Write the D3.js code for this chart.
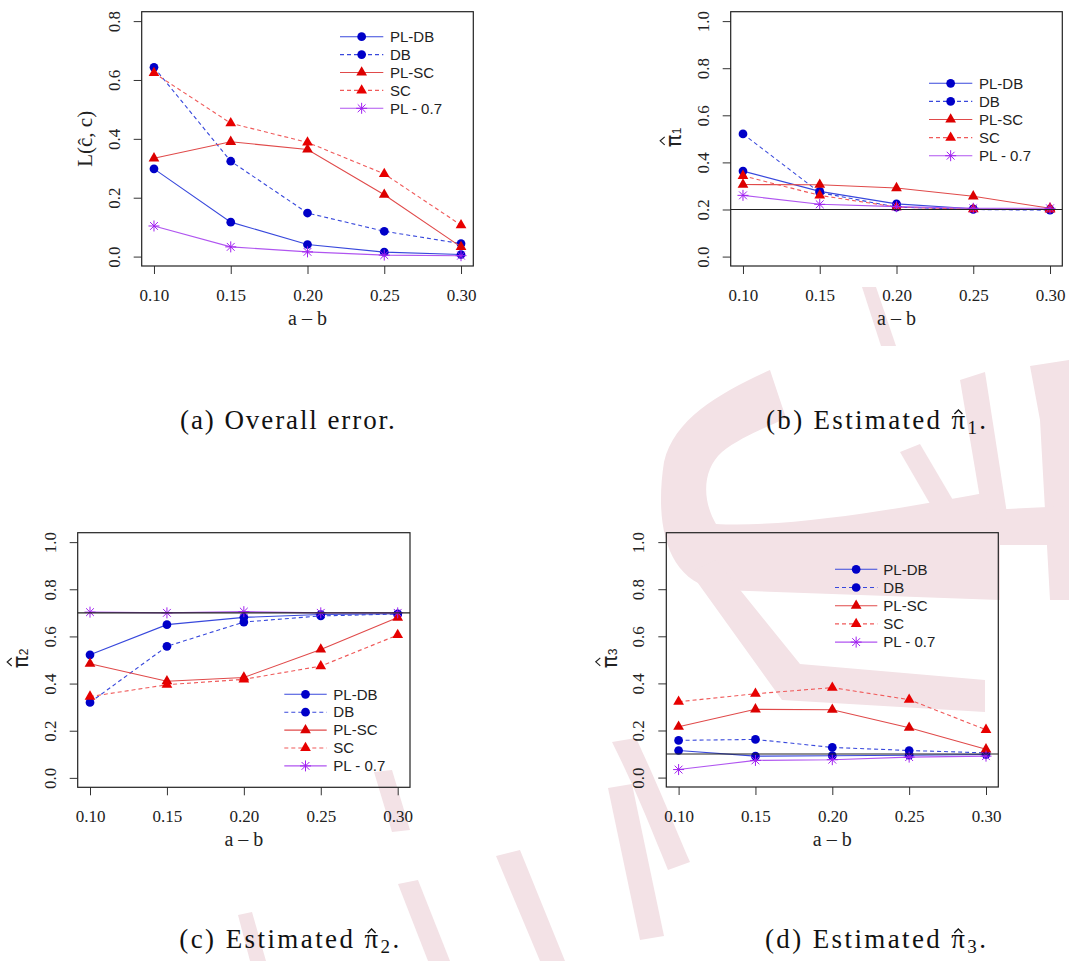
<!DOCTYPE html>
<html>
<head>
<meta charset="utf-8">
<script src="https://cdn.jsdelivr.net/npm/d3@7"></script>
<style>
  body { margin: 0; background: #fff; }
  svg { display: block; }
  .serif { font-family: "Liberation Serif", "Times New Roman", serif; }
  .sans { font-family: "Liberation Sans", Arial, sans-serif; }
</style>
</head>
<body>
<div id="viz"></div>
<script>
/*  simulation summary : 4 panels, 5 methods each  */

// x axis (a - b)
var xVals = [0.10, 0.15, 0.20, 0.25, 0.30];
var xTickLabels = ["0.10", "0.15", "0.20", "0.25", "0.30"];
var methods = ["PL-DB", "DB", "PL-SC", "SC", "PL - 0.7"];

// (a) overall error L(c^, c)
var errPLDB = [0.298, 0.117, 0.041, 0.015, 0.007];
var errDB   = [0.643, 0.324, 0.148, 0.086, 0.044];
var errPLSC = [0.334, 0.390, 0.364, 0.210, 0.033];
var errSC   = [0.624, 0.453, 0.388, 0.281, 0.107];
var errPL07 = [0.104, 0.033, 0.016, 0.005, 0.003];

// (b) estimated pi1 (true 0.2)
var pi1PLDB = [0.363, 0.277, 0.224, 0.203, 0.200];
var pi1DB   = [0.521, 0.272, 0.210, 0.200, 0.197];
var pi1PLSC = [0.306, 0.305, 0.291, 0.256, 0.205];
var pi1SC   = [0.343, 0.260, 0.210, 0.201, 0.200];
var pi1PL07 = [0.260, 0.222, 0.212, 0.205, 0.205];

// (c) estimated pi2 (true 0.7)
var pi2PLDB = [0.522, 0.650, 0.681, 0.693, 0.696];
var pi2DB   = [0.320, 0.558, 0.661, 0.687, 0.695];
var pi2PLSC = [0.484, 0.410, 0.426, 0.545, 0.680];
var pi2SC   = [0.345, 0.395, 0.418, 0.474, 0.606];
var pi2PL07 = [0.703, 0.700, 0.705, 0.700, 0.700];

// (d) estimated pi3 (true 0.1)
var pi3PLDB = [0.115, 0.091, 0.093, 0.095, 0.098];
var pi3DB   = [0.158, 0.162, 0.128, 0.115, 0.105];
var pi3PLSC = [0.216, 0.290, 0.288, 0.212, 0.120];
var pi3SC   = [0.322, 0.356, 0.382, 0.331, 0.203];
var pi3PL07 = [0.034, 0.073, 0.076, 0.087, 0.091];

var yTicksErr = [0, 0.2, 0.4, 0.6, 0.8];
var yTicksPi  = [0, 0.2, 0.4, 0.6, 0.8, 1.0];
var truePi = [null, 0.2, 0.7, 0.1];

// line / marker style per method
var styles = [
    {line: "#3848dc", dash: null,  sym: "circle",   fill: "#0000c8"},
    {line: "#3848dc", dash: "4,3", sym: "circle",   fill: "#0000c8"},
    {line: "#e04a4a", dash: null,  sym: "triangle", fill: "#dc0000"},
    {line: "#f05a5a", dash: "4,3", sym: "triangle", fill: "#e80000"},
    {line: "#b055f0", dash: null,  sym: "star",     fill: "#a020f0"}
];

var panels = [
    {box: {l: 141.7, t: 11.7, r: 473.3, b: 266}, yMax: 0.8, yTicks: yTicksErr,
     series: [errPLDB, errDB, errPLSC, errSC, errPL07], ref: truePi[0],
     legend: {x1: 340, x2: 383.3, tx: 390, y: 36.7, dy: 17.9},
     ylab: "err", caption: {pre: "(a) Overall error.", sub: null, x: 180, y: 429, w: 216.7}},
    {box: {l: 730.7, t: 11.7, r: 1062.3, b: 266}, yMax: 1.0, yTicks: yTicksPi,
     series: [pi1PLDB, pi1DB, pi1PLSC, pi1SC, pi1PL07], ref: truePi[1],
     legend: {x1: 929, x2: 972.3, tx: 979, y: 83.3, dy: 18.1},
     ylab: "1", caption: {pre: "(b) Estimated π", sub: "1", x: 766, y: 429, w: 222.3}},
    {box: {l: 77.7, t: 532.7, r: 410, b: 787.3}, yMax: 1.0, yTicks: yTicksPi,
     series: [pi2PLDB, pi2DB, pi2PLSC, pi2SC, pi2PL07], ref: truePi[2],
     legend: {x1: 284.3, x2: 326.7, tx: 333.3, y: 694.3, dy: 17.9},
     ylab: "2", caption: {pre: "(c) Estimated π", sub: "2", x: 179.3, y: 948, w: 222.4}},
    {box: {l: 666.3, t: 532.7, r: 998.3, b: 787}, yMax: 1.0, yTicks: yTicksPi,
     series: [pi3PLDB, pi3DB, pi3PLSC, pi3SC, pi3PL07], ref: truePi[3],
     legend: {x1: 835, x2: 877.3, tx: 883.3, y: 569.3, dy: 18.2},
     ylab: "3", caption: {pre: "(d) Estimated π", sub: "3", x: 765, y: 948, w: 223.3}}
];

const svg = d3.select("#viz").append("svg")
    .attr("width", 1069)
    .attr("height", 961)
    .style("background", "#fff");

/*  faint watermark in the background (rough)  */
var wm = svg.append("g").attr("fill", "#f3e2e6").attr("stroke", "none");
var wmShapes = [
    "M862,287 L876,287 L896,346 L881,346 Z",
    "M770,370 C722,392 674,418 664,462 C655,520 664,582 720,590 L1000,600 L1000,490 C905,508 790,528 716,524 C702,500 702,470 722,452 C742,436 770,426 786,418 Z",
    "M690,572 L716,560 L800,664 L985,680 L985,712 L782,700 Z",
    "M960,380 L985,372 L1008,520 L985,528 Z",
    "M900,452 L920,444 L1000,580 L980,590 Z",
    "M1030,366 L1069,360 L1069,600 L1050,600 L1040,420 Z",
    "M986,510 L1069,506 L1069,545 L988,545 Z",
    "M612,742 L636,738 C660,790 672,820 690,862 L668,870 C650,826 636,790 612,742 Z",
    "M374,772 L392,770 L410,830 L392,832 Z",
    "M238,915 L252,912 L266,961 L250,961 Z",
    "M398,884 L418,880 L450,961 L428,961 Z",
    "M496,856 L520,850 L565,961 L540,961 Z",
    "M608,788 L632,784 L664,936 L640,940 Z"
];
wm.selectAll("path").data(wmShapes).enter().append("path").attr("d", function (d) { return d; });

var starPath = "M0,-5.5V5.5M-5.5,0H5.5M-3.9,-3.9L3.9,3.9M-3.9,3.9L3.9,-3.9";

function drawMarker(g, st, cx, cy) {
    if (st.sym === "star") {
        g.append("path").attr("d", starPath)
            .attr("transform", "translate(" + cx + "," + cy + ")")
            .attr("fill", "none").attr("stroke", st.fill).attr("stroke-width", 1);
    } else {
        var s = st.sym === "circle" ? d3.symbol(d3.symbolCircle, 60) : d3.symbol(d3.symbolTriangle, 50);
        g.append("path").attr("d", s())
            .attr("transform", "translate(" + cx + "," + cy + ")")
            .attr("fill", st.fill);
    }
}

panels.forEach(function (p) {
    var box = p.box;
    var g = svg.append("g");
    var pad = 0.04 * p.yMax;

    var x = d3.scaleLinear().domain([0.092, 0.308]).range([box.l, box.r]);
    var y = d3.scaleLinear().domain([-pad, p.yMax + pad]).range([box.b, box.t]);

    // y axis, labels turned like R does
    var ya = g.append("g")
        .attr("transform", "translate(" + box.l + ",0)")
        .call(d3.axisLeft(y).tickValues(p.yTicks).tickSize(8).tickFormat(d3.format(".1f")));
    ya.attr("font-family", null).attr("font-size", null);
    ya.select(".domain").remove();
    ya.selectAll("line").attr("stroke", "#333");
    ya.selectAll("text")
        .attr("class", "serif")
        .attr("x", 0).attr("dy", "0.35em")
        .attr("transform", "translate(-28,0) rotate(-90)")
        .attr("text-anchor", "middle")
        .attr("fill", "#222")
        .style("font-size", "17px");

    // x axis
    var xa = g.append("g")
        .attr("transform", "translate(0," + box.b + ")")
        .call(d3.axisBottom(x).tickValues(xVals).tickSize(8).tickPadding(15)
            .tickFormat(function (d, i) { return xTickLabels[i]; }));
    xa.attr("font-family", null).attr("font-size", null);
    xa.select(".domain").remove();
    xa.selectAll("line").attr("stroke", "#333");
    xa.selectAll("text").attr("class", "serif").attr("fill", "#222")
        .style("font-size", "17px");

    g.append("text")
        .attr("class", "serif")
        .attr("x", (box.l + box.r) / 2).attr("y", box.b + 59)
        .attr("text-anchor", "middle")
        .style("font-size", "20px").attr("fill", "#222")
        .text("a \u2013 b");

    // y label
    var yl = g.append("g")
        .attr("transform", "translate(" + (box.l - 57) + "," + ((box.t + box.b) / 2) + ") rotate(-90)");
    if (p.ylab === "err") {
        yl.append("text").attr("class", "serif").attr("text-anchor", "middle").attr("dy", "0.35em")
            .style("font-size", "21px").attr("fill", "#222")
            .text("L(\u0109, c)");
    } else {
        yl.append("text").attr("x", -2).attr("text-anchor", "middle").attr("dy", "0.35em")
            .style("font-family", "'DejaVu Sans', sans-serif").style("font-size", "21px").attr("fill", "#222")
            .text("\u03c0");
        yl.append("text").attr("class", "sans").attr("x", 8).attr("y", 3).attr("text-anchor", "middle").attr("dy", "0.35em")
            .style("font-size", "12px").attr("fill", "#222")
            .text(p.ylab);
        yl.append("path").attr("d", "M-6,-9 L-2,-13.5 L2,-9")
            .attr("fill", "none").attr("stroke", "#222").attr("stroke-width", 1.2);
    }

    // series: lines, then markers
    var line = d3.line()
        .x(function (d, i) { return x(xVals[i]); })
        .y(function (d) { return y(d); });

    p.series.forEach(function (vals, k) {
        var st = styles[k];
        g.append("path").datum(vals)
            .attr("d", line)
            .attr("fill", "none")
            .attr("stroke", st.line)
            .attr("stroke-width", 1.1)
            .attr("stroke-dasharray", st.dash);
        vals.forEach(function (v, i) {
            drawMarker(g, st, x(xVals[i]), y(v));
        });
    });

    // true value line
    if (p.ref !== null) {
        g.append("line")
            .attr("x1", box.l).attr("x2", box.r)
            .attr("y1", y(p.ref)).attr("y2", y(p.ref))
            .attr("stroke", "#222").attr("stroke-width", 1.1);
    }

    // plot frame
    g.append("rect")
        .attr("x", box.l).attr("y", box.t)
        .attr("width", box.r - box.l).attr("height", box.b - box.t)
        .attr("fill", "none").attr("stroke", "#222").attr("stroke-width", 1.2);

    // legend (no box)
    var lg = p.legend;
    methods.forEach(function (m, k) {
        var st = styles[k];
        var ly = lg.y + k * lg.dy;
        g.append("line")
            .attr("x1", lg.x1).attr("x2", lg.x2).attr("y1", ly).attr("y2", ly)
            .attr("stroke", st.line).attr("stroke-width", 1.1)
            .attr("stroke-dasharray", st.dash);
        drawMarker(g, st, (lg.x1 + lg.x2) / 2, ly);
        g.append("text")
            .attr("class", "sans")
            .attr("x", lg.tx).attr("y", ly).attr("dy", "0.35em")
            .style("font-size", "15px").attr("fill", "#222")
            .text(m);
    });

    // caption under the panel
    var c = p.caption;
    var cap = svg.append("text")
        .attr("class", "serif")
        .attr("x", c.x).attr("y", c.y)
        .style("font-size", "27px").attr("fill", "#111");
    cap.append("tspan").text(c.pre);
    if (c.sub) {
        cap.append("tspan").attr("dy", 5).style("font-size", "19px").text(c.sub);
        cap.append("tspan").attr("dy", -5).text(".");
    }
    var natural = cap.node().getComputedTextLength();
    var nChars = (c.pre + (c.sub ? c.sub + "." : "")).length;
    cap.style("letter-spacing", ((c.w - natural) / nChars) + "px");
    if (c.sub) {
        // hat over the pi
        var ext = cap.node().getExtentOfChar(c.pre.length - 1);
        var hx = ext.x + ext.width / 2 - 1, hy = ext.y + 5;
        svg.append("path")
            .attr("d", "M" + (hx - 4) + "," + (hy + 4) + " L" + hx + "," + hy + " L" + (hx + 4) + "," + (hy + 4))
            .attr("fill", "none").attr("stroke", "#111").attr("stroke-width", 1.3);
    }
});
</script>
</body>
</html>
